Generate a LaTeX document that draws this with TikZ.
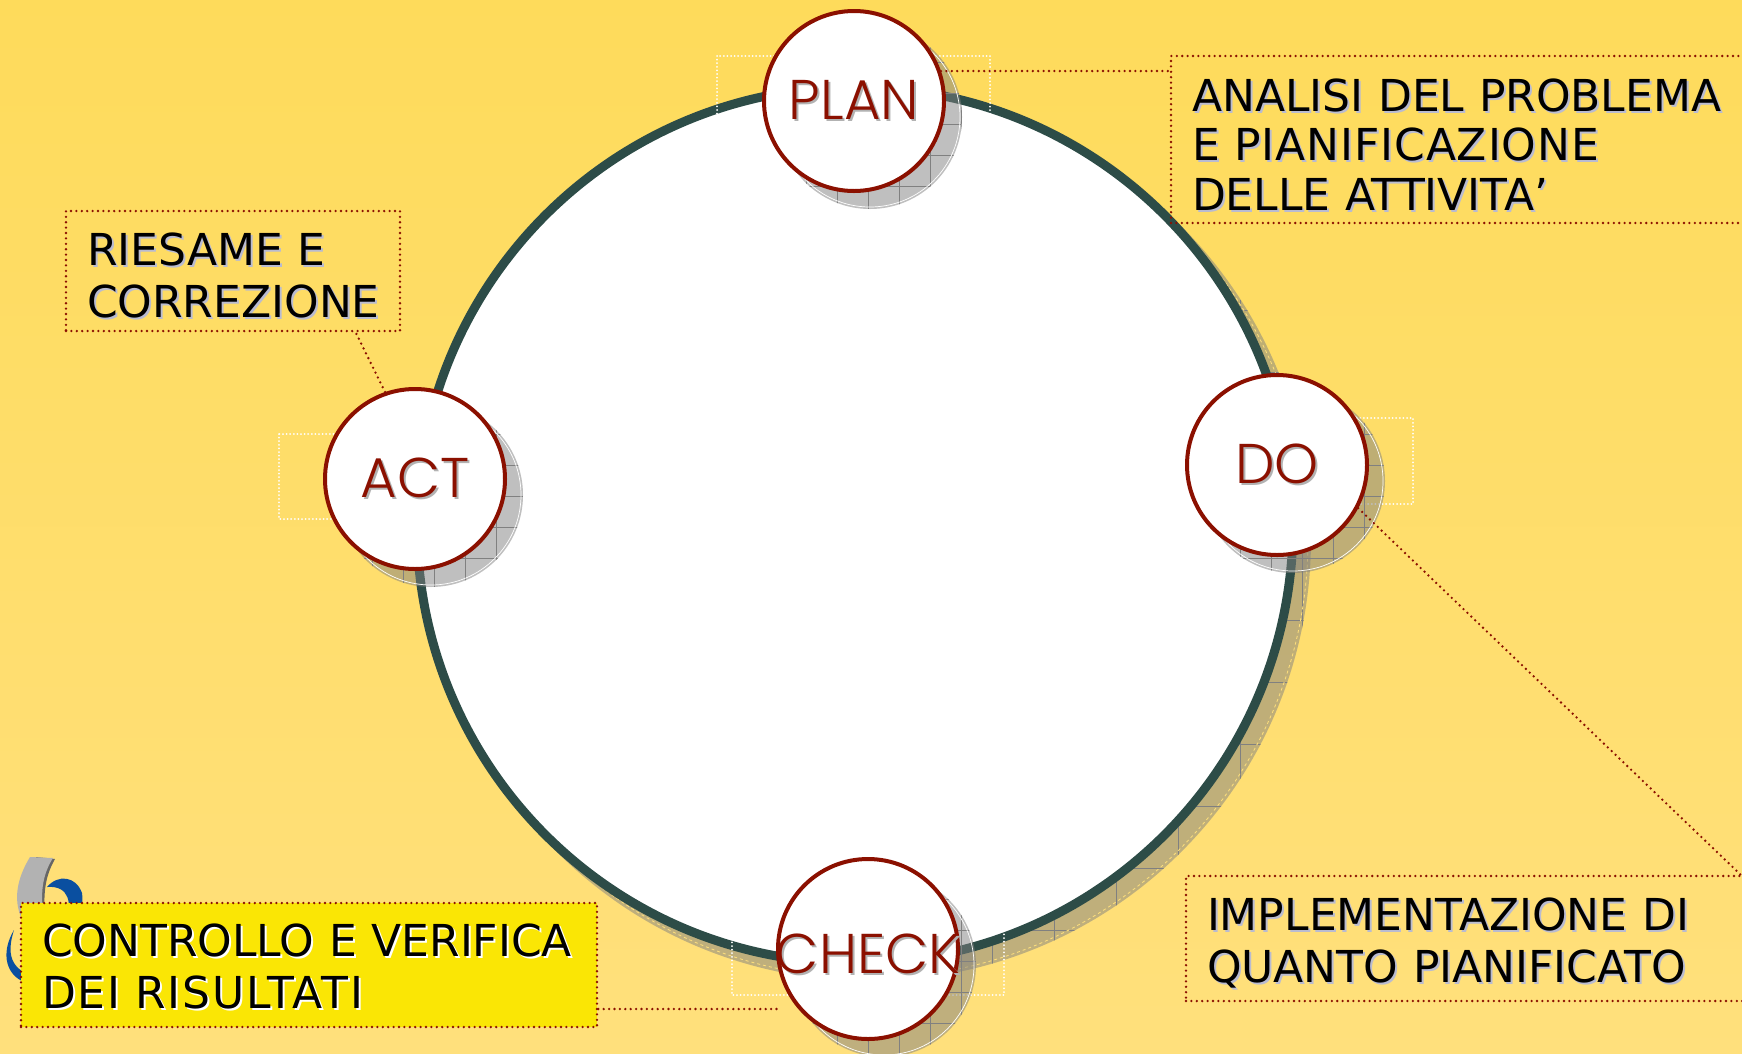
\documentclass[tikz,border=0pt]{standalone}
\usepackage{fontspec}
\newfontfamily\boxfont{DejaVu Sans}
\newfontfamily\phasefont{Poppins Light}
\definecolor{phasered}{HTML}{8B1000}
\definecolor{ringgreen}{HTML}{2D4C47}
\definecolor{bgtop}{HTML}{FEDB5B}
\definecolor{bgbottom}{HTML}{FFE07C}
\definecolor{boxyellow}{HTML}{FAE605}
\definecolor{logoblue}{HTML}{0A4FA0}
\definecolor{textshade}{HTML}{B9BBD0}
\newcommand{\shtext}[2]{\leavevmode\rlap{\kern2pt\raisebox{-2pt}{\textcolor{#1}{#2}}}#2}
\newcommand{\topgap}[1]{\rule{0pt}{#1}}
\tikzset{
	phase/.style={circle,draw=phasered,line width=4pt,fill=white,inner sep=-30pt,minimum size=180pt,text=phasered,font=\phasefont\fontsize{56}{60}\selectfont},
	note/.style={draw=phasered,line width=2.6pt,line cap=round,dash pattern=on 0pt off 5.4pt,align=left,inner xsep=21pt,inner ysep=0pt,font=\boxfont\fontsize{44}{52}\selectfont},
	link/.style={draw=phasered,line width=2.6pt,line cap=round,dash pattern=on 0pt off 5.4pt},
	frame/.style={draw=white,line width=2pt,line cap=round,dash pattern=on 0pt off 3.6pt},
	shadowfill/.style={fill=black!50,fill opacity=.5,draw=none},
	shadowedge/.style={draw=white,line width=.7pt},
	gridline/.style={draw=black!50,line width=.5pt}
}
\begin{document}
\begin{tikzpicture}[x=1pt,y=-1pt]
	\useasboundingbox (0,0) rectangle (1742,1053);
	\shade[top color=bgtop,bottom color=bgbottom] (0,0) rectangle (1742,1053);
	% logo
	\fill[black!60] (36,857) -- (55,859) .. controls (46,875) and (43,890) .. (45,917) -- (30,917) -- cycle;
	\fill[black!30] (30,857) -- (53,858) .. controls (42,875) and (40,895) .. (44,917) -- (21,917) .. controls (14,900) and (16,880) .. (30,857) -- cycle;
	\fill[logoblue] (47,887) .. controls (58,874) and (76,876) .. (82,893) .. controls (84,905) and (80,915) .. (76,920) -- (66,920) .. controls (72,905) and (70,885) .. (47,887) -- cycle;
	\fill[logoblue] (14,930) .. controls (2,950) and (4,972) .. (22,981) -- (30,975) .. controls (12,968) and (6,955) .. (14,930) -- cycle;
	% big circle
	\coordinate (centre) at (855,525);
	\fill[shadowfill] ([shift={(14,14)}]centre) circle (442pt);
	\begin{scope}
		\clip ([shift={(14,14)}]centre) circle (442pt);
		\draw[gridline,step=62pt] (800,300) grid (1400,1100);
	\end{scope}
	\draw[bgbottom,line width=.8pt,dashed] ([shift={(14,14)}]centre) circle (439pt);
	\draw[ringgreen,line width=9pt,fill=white] (centre) circle (438pt);
	% white frames
	\draw[frame] (717,56) rectangle (990,141);
	\draw[frame] (279,434) rectangle (520,519);
	\draw[frame] (1195,418) rectangle (1413,504);
	\draw[frame] (732,910) rectangle (1004,995);
	% shadows
	\foreach \cx/\cy in {854/101,1277/465,868/949,415/479} {
		\fill[shadowfill] (\cx+16,\cy+16) circle (92pt);
		\begin{scope}
			\clip (\cx+16,\cy+16) circle (92pt);
			\draw[gridline,step=31pt] (\cx-90,\cy-90) grid (\cx+120,\cy+120);
		\end{scope}
		\draw[shadowedge] (\cx+16,\cy+16) circle (90pt);
	}
	% phases
	\node[phase] (plan) at (854,101) {\shtext{black!30}{PLAN}};
	\node[phase] (do) at (1277,465) {\shtext{black!30}{DO}};
	\node[phase] (check) at (868,949) {\topgap{52pt}\shtext{black!30}{CHECK}};
	\node[phase] (act) at (415,479) {\shtext{black!30}{ACT}};
	% notes
	\node[note,font=\boxfont\fontsize{44}{49.5}\selectfont,minimum height=167pt,text width=547pt] (analisi) at (1465.5,139.5) {\topgap{44pt}\shtext{textshade}{ANALISI DEL PROBLEMA}\\\shtext{textshade}{{\addfontfeature{LetterSpace=2}E PIANIFICAZIONE}}\\\shtext{textshade}{DELLE ATTIVITA’}};
	\node[note,minimum height=120pt,text width=292pt] (riesame) at (233,271) {\topgap{44pt}\shtext{textshade}{RIESAME E}\\\shtext{textshade}{CORREZIONE}};
	\node[note,minimum height=125pt,text width=534pt] (implement) at (1474,938.5) {\topgap{44pt}\shtext{textshade}{IMPLEMENTAZIONE DI}\\\shtext{textshade}{QUANTO PIANIFICATO}};
	\node[note,fill=boxyellow,minimum height=124pt,text width=534pt] (controllo) at (309,965) {\topgap{38pt}\shtext{white}{CONTROLLO E VERIFICA}\\\shtext{white}{{\addfontfeature{LetterSpace=4.5}DEI RISULTATI}}};
	% links
	\coordinate (planlink) at (1171,71);
	\coordinate (actlink) at (355,331);
	\coordinate (dolink) at (1742,876);
	\coordinate (checklink) at (780,1009);
	\draw[link] (plan.19) -- (planlink);
	\draw[link] (act.109) -- (actlink);
	\draw[link] (do.-28) -- (dolink);
	\draw[link] (controllo.east |- checklink) -- (checklink);
\end{tikzpicture}
\end{document}
